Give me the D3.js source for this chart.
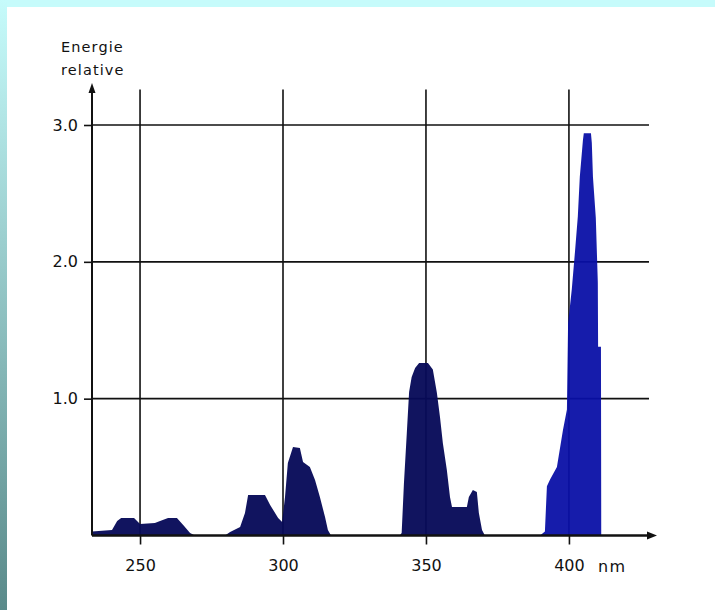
<!DOCTYPE html>
<html>
<head>
<meta charset="utf-8">
<script src="https://cdn.jsdelivr.net/npm/d3@7"></script>
<style>
  html, body { margin: 0; padding: 0; background: #c6fbfb; }
  svg { display: block; }
  text { font-family: "DejaVu Sans", Verdana, sans-serif; fill: #111; }
</style>
</head>
<body>
<script>
// ---- data ----
const uvWavelength = [233.2,240.2,242.0,243.4,247.9,250.0,255.2,257.0,259.8,262.9,265.4,267.5,269.2,
  279.7,281.5,285.0,286.7,287.8,293.7,295.5,298.3,299.7,300.7,301.7,303.5,305.9,307.0,309.4,311.2,312.9,314.7,315.7,316.8,
  340.8,341.5,342.3,343.3,344.1,345.0,346.2,347.6,350.7,352.4,353.8,354.9,355.9,357.3,358.4,359.1,364.3,365.0,366.4,367.8,368.5,369.6,370.6,389.9];
const uvEnergy = [0.03,0.04,0.106,0.128,0.128,0.084,0.091,0.106,0.128,0.128,0.07,0.018,0,
  0,0.026,0.062,0.164,0.296,0.296,0.223,0.128,0.099,0.281,0.53,0.647,0.639,0.537,0.501,0.406,0.281,0.135,0.04,0,
  0,0.018,0.384,0.749,1.049,1.159,1.225,1.261,1.261,1.213,1.045,0.866,0.676,0.479,0.281,0.208,0.208,0.281,0.333,0.318,0.164,0.04,0,0];
const visWavelength = [389.9,391.6,392.3,393.4,395.8,397.9,399.3,399.7,401.0,402.1,403.1,403.8,404.9,405.2,407.7,408.0,408.4,409.4,410.1,410.2,411.2,411.3];
const visEnergy = [0,0.03,0.36,0.41,0.50,0.77,0.92,1.55,1.80,2.07,2.33,2.62,2.89,2.94,2.94,2.87,2.62,2.32,1.85,1.38,1.38,0];
const xTicks = [250, 300, 350, 400];
const yTicks = [1, 2, 3];
const yTitle = ["Energie", "relative"];
const xUnit = "nm";

// ---- drawing ----
const W = 715, H = 610;
const svg = d3.select("body").append("svg").attr("width", W).attr("height", H);
const defs = svg.append("defs");
const grad = defs.append("linearGradient").attr("id", "side").attr("x1", 0).attr("y1", 0).attr("x2", 0).attr("y2", 1);
grad.append("stop").attr("offset", "0%").attr("stop-color", "#c6fbfb");
grad.append("stop").attr("offset", "100%").attr("stop-color", "#5a8a8a");

svg.append("rect").attr("x", 0).attr("y", 0).attr("width", W).attr("height", H).attr("fill", "#c6fbfb");
svg.append("rect").attr("x", 0).attr("y", 0).attr("width", 7).attr("height", H).attr("fill", "url(#side)");
svg.append("rect").attr("x", 7).attr("y", 7).attr("width", W - 7).attr("height", H - 7).attr("fill", "#ffffff");

const x = d3.scaleLinear().domain([233.2, 430.8]).range([92, 657]);
const y = d3.scaleLinear().domain([0, 3]).range([535.5, 125]);

const gridTop = 3.26, gridRight = 428.0;

// gridlines
const grid = svg.append("g").attr("stroke", "#111").attr("stroke-width", 1.6);
grid.selectAll("line.v").data(xTicks).join("line")
  .attr("x1", d => x(d)).attr("x2", d => x(d))
  .attr("y1", y(gridTop)).attr("y2", y(0));
grid.selectAll("line.h").data(yTicks).join("line")
  .attr("x1", x.range()[0]).attr("x2", x(gridRight))
  .attr("y1", d => y(d)).attr("y2", d => y(d));

// areas
const area = d3.area().x(d => x(d[0])).y0(y(0)).y1(d => y(d[1]));
svg.append("path").datum(d3.zip(uvWavelength, uvEnergy)).attr("d", area)
  .attr("fill", "#070a58").attr("fill-opacity", 0.96);
svg.append("path").datum(d3.zip(visWavelength, visEnergy)).attr("d", area)
  .attr("fill", "#0a10a6").attr("fill-opacity", 0.95);

// x axis
const xAxis = svg.append("g").attr("transform", `translate(0,${y(0)})`)
  .call(d3.axisBottom(x).tickValues(xTicks).tickSize(9).tickSizeOuter(0).tickPadding(15));
xAxis.select(".domain").remove();
xAxis.selectAll(".tick line").attr("stroke", "#111").attr("stroke-width", 1.6);
xAxis.selectAll(".tick text").attr("font-size", 16).attr("fill", "#111")
  .style("font-family", '"DejaVu Sans", sans-serif');

// y axis
const yAxis = svg.append("g").attr("transform", `translate(${x.range()[0]},0)`)
  .call(d3.axisLeft(y).tickValues(yTicks).tickFormat(d3.format(".1f")).tickSize(8).tickSizeOuter(0).tickPadding(6));
yAxis.select(".domain").remove();
yAxis.selectAll(".tick line").attr("stroke", "#111").attr("stroke-width", 1.6);
yAxis.selectAll(".tick text").attr("font-size", 16).attr("fill", "#111")
  .style("font-family", '"DejaVu Sans", sans-serif');

// axis lines with arrows
const x0 = x.range()[0], y0 = y(0), xEnd = x.range()[1];
svg.append("line").attr("x1", x0).attr("x2", xEnd - 4).attr("y1", y0).attr("y2", y0)
  .attr("stroke", "#111").attr("stroke-width", 2.4);
svg.append("path").attr("d", `M${xEnd},${y0} L${xEnd - 10},${y0 - 4} L${xEnd - 10},${y0 + 4} Z`).attr("fill", "#111");
const yTopPx = 83;
svg.append("line").attr("x1", x0).attr("x2", x0).attr("y1", y0).attr("y2", yTopPx + 4)
  .attr("stroke", "#111").attr("stroke-width", 2);
svg.append("path").attr("d", `M${x0},${yTopPx} L${x0 - 3.5},${yTopPx + 10} L${x0 + 3.5},${yTopPx + 10} Z`).attr("fill", "#111");

// unit label
svg.append("text").attr("x", x(400) + 29).attr("y", y0 + 36)
  .attr("font-size", 16).attr("letter-spacing", 1.5).text(xUnit);

// y title
svg.selectAll("text.yt").data(yTitle).join("text").attr("class", "yt")
  .attr("x", 61).attr("y", (d, i) => 52 + i * 23)
  .attr("font-size", 14.5).attr("letter-spacing", 1.1).text(d => d);
</script>
</body>
</html>
